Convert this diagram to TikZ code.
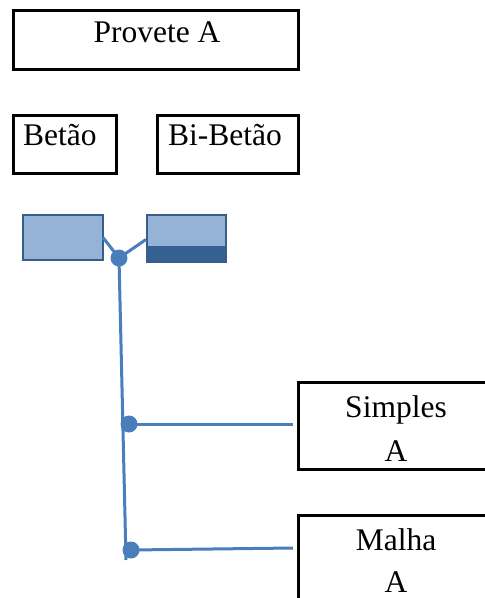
\documentclass[tikz,border=0pt]{standalone}
\usepackage{fontspec}
\setmainfont{Liberation Serif}
\definecolor{lineblue}{HTML}{4A7EBB}
\definecolor{lightfill}{HTML}{95B3D7}
\definecolor{darkfill}{HTML}{376092}
\definecolor{rimblue}{HTML}{385D8A}
\begin{document}
\begin{tikzpicture}[x=1pt,y=-1pt,
  blackbox/.style={draw=black,line width=3pt,inner sep=0pt},
  bluebox/.style={draw=rimblue,line width=2pt,fill=lightfill,inner sep=0pt},
  link/.style={draw=lineblue,line width=3pt},
  joint/.style={circle,fill=lineblue,inner sep=0pt,minimum size=17pt},
  lbl/.style={font=\fontsize{31.5}{36}\selectfont,inner sep=0pt,anchor=base}]
\useasboundingbox (0,0) rectangle (485,598);
\begin{scope}
\clip (0,0) rectangle (485,598);
% black boxes
\draw[blackbox] (13,10) rectangle (298,69);
\node[lbl] (prov) at (157,42) {Provete A};
\draw[blackbox] (13,115) rectangle (116,173);
\node[lbl,anchor=base west] (bet) at (23,145) {Betão};
\draw[blackbox] (157,115) rectangle (298,173);
\node[lbl,anchor=base west] (bibet) at (168,145) {Bi-Betão};
\draw[blackbox] (298,382) rectangle (500,469);
\node[lbl] (simp) at (396,417) {Simples};
\node[lbl] (simpA) at (396,461) {A};
\draw[blackbox] (298,515) rectangle (500,620);
\node[lbl] (malh) at (396,550) {Malha};
\node[lbl] (malhA) at (396,592) {A};
% blue specimen rectangles
\node[bluebox,minimum width=80pt,minimum height=45pt,anchor=north west] (r1) at (22,214) {};
\node[bluebox,minimum width=79pt,minimum height=47pt,anchor=north west] (r2) at (146,214) {};
\fill[darkfill] (146,246) rectangle (225,261);
% connectors
\coordinate (top) at (119,258);
\coordinate (bot) at (126,560);
\coordinate (e1) at (293,424);
\coordinate (e2) at (293,548);
\draw[link] (r1.east) ++(-1,0) -- (top);
\draw[link] (r2.west) ++(0,1) -- (top);
\draw[link] (top) -- (bot);
\node[joint] (j0) at (top) {};
\node[joint] (j1) at (129,424) {};
\node[joint] (j2) at (131,550) {};
\draw[link] (j1.center) -- (e1);
\draw[link] (j2.center) -- (e2);
\end{scope}
\end{tikzpicture}
\end{document}
